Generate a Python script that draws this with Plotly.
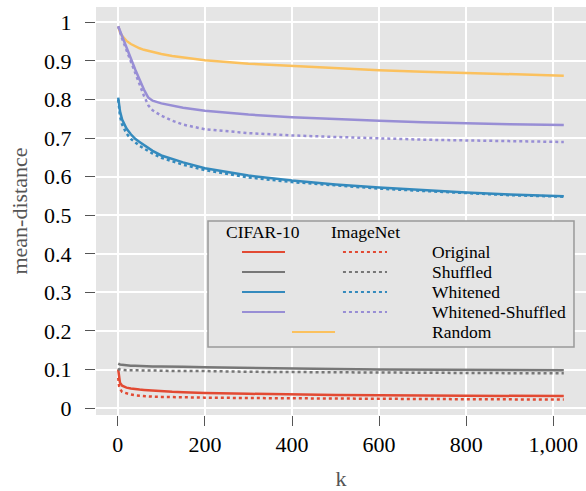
import plotly.graph_objects as go

# ---- data ----
k = [1, 2, 3, 5, 10, 15, 20, 30, 40, 50, 60, 70, 80, 100, 125, 150, 200, 300, 400, 500, 600, 700, 800, 900, 1024]

cifar_original = [0.100, 0.085, 0.075, 0.066, 0.058, 0.055, 0.053, 0.051, 0.049, 0.048, 0.047, 0.046, 0.045, 0.044, 0.042, 0.041, 0.039, 0.037, 0.035, 0.034, 0.033, 0.0325, 0.032, 0.0315, 0.031]
imagenet_original = [0.078, 0.065, 0.057, 0.050, 0.042, 0.040, 0.038, 0.035, 0.033, 0.032, 0.031, 0.030, 0.0295, 0.029, 0.028, 0.0275, 0.027, 0.026, 0.025, 0.0245, 0.024, 0.0235, 0.023, 0.0225, 0.022]

cifar_shuffled = [0.115, 0.114, 0.114, 0.113, 0.112, 0.111, 0.111, 0.110, 0.110, 0.109, 0.109, 0.108, 0.108, 0.108, 0.107, 0.107, 0.106, 0.104, 0.102, 0.101, 0.100, 0.0995, 0.099, 0.0985, 0.098]
imagenet_shuffled = [0.103, 0.101, 0.100, 0.100, 0.099, 0.099, 0.098, 0.098, 0.098, 0.097, 0.097, 0.097, 0.097, 0.097, 0.096, 0.096, 0.096, 0.094, 0.093, 0.0925, 0.092, 0.0915, 0.091, 0.0905, 0.090]

cifar_whitened = [0.805, 0.795, 0.785, 0.770, 0.748, 0.735, 0.725, 0.710, 0.698, 0.690, 0.682, 0.674, 0.667, 0.655, 0.645, 0.637, 0.622, 0.603, 0.590, 0.580, 0.572, 0.565, 0.559, 0.554, 0.549]
imagenet_whitened = [0.800, 0.785, 0.772, 0.757, 0.735, 0.722, 0.712, 0.698, 0.688, 0.680, 0.673, 0.666, 0.660, 0.649, 0.639, 0.631, 0.617, 0.598, 0.586, 0.577, 0.569, 0.563, 0.557, 0.552, 0.548]

cifar_wshuffled = [0.990, 0.987, 0.983, 0.977, 0.962, 0.948, 0.933, 0.905, 0.878, 0.852, 0.826, 0.805, 0.797, 0.790, 0.784, 0.779, 0.771, 0.761, 0.754, 0.749, 0.745, 0.741, 0.738, 0.736, 0.734]
imagenet_wshuffled = [0.990, 0.986, 0.982, 0.975, 0.958, 0.943, 0.928, 0.898, 0.868, 0.838, 0.810, 0.785, 0.772, 0.758, 0.745, 0.735, 0.723, 0.713, 0.707, 0.703, 0.699, 0.696, 0.694, 0.692, 0.690]

random_vals = [0.990, 0.985, 0.981, 0.975, 0.965, 0.958, 0.952, 0.944, 0.938, 0.933, 0.929, 0.926, 0.923, 0.918, 0.913, 0.909, 0.902, 0.893, 0.887, 0.881, 0.876, 0.872, 0.869, 0.865, 0.862]

labels = ["Original", "Shuffled", "Whitened", "Whitened-Shuffled"]
colors = ["#E24A33", "#777777", "#348ABD", "#988ED5"]
random_color = "#FBC15E"
cifar_series = [cifar_original, cifar_shuffled, cifar_whitened, cifar_wshuffled]
imagenet_series = [imagenet_original, imagenet_shuffled, imagenet_whitened, imagenet_wshuffled]

x_ticks = [0, 200, 400, 600, 800, 1000]
x_ticklabels = ["0", "200", "400", "600", "800", "1,000"]
y_ticks = [0, 0.1, 0.2, 0.3, 0.4, 0.5, 0.6, 0.7, 0.8, 0.9, 1]
y_ticklabels = ["0", "0.1", "0.2", "0.3", "0.4", "0.5", "0.6", "0.7", "0.8", "0.9", "1"]

FONT = "Liberation Serif"

fig = go.Figure()
fig.add_trace(go.Scatter(x=k, y=random_vals, mode="lines", name="Random",
                         line=dict(color=random_color, width=2.5), showlegend=False))
for lab, col, cs, ims in zip(labels, colors, cifar_series, imagenet_series):
    fig.add_trace(go.Scatter(x=k, y=cs, mode="lines", name=lab + " CIFAR-10",
                             line=dict(color=col, width=2.5), showlegend=False))
    fig.add_trace(go.Scatter(x=k, y=ims, mode="lines", name=lab + " ImageNet",
                             line=dict(color=col, width=2.5, dash="dot"), showlegend=False))

# ---- custom legend (paper coordinates) ----
shapes = [dict(type="rect", xref="paper", yref="paper", x0=0.2286, x1=0.9755, y0=0.1667, y1=0.4755,
               fillcolor="#E5E5E5", line=dict(color="#999999", width=1.5), layer="above")]
annotations = [
    dict(text="CIFAR-10", x=0.3408, y=0.4485, xref="paper", yref="paper", showarrow=False,
         xanchor="center", yanchor="middle", font=dict(family=FONT, size=17.5, color="black")),
    dict(text="ImageNet", x=0.549, y=0.4485, xref="paper", yref="paper", showarrow=False,
         xanchor="center", yanchor="middle", font=dict(family=FONT, size=17.5, color="black")),
]
row_y = [0.3995, 0.3505, 0.3015, 0.2525, 0.2034]
for i, (lab, col) in enumerate(zip(labels, colors)):
    yy = row_y[i]
    shapes.append(dict(type="line", xref="paper", yref="paper", x0=0.298, x1=0.3857, y0=yy, y1=yy,
                       line=dict(color=col, width=2.2), layer="above"))
    shapes.append(dict(type="line", xref="paper", yref="paper", x0=0.504, x1=0.5939, y0=yy, y1=yy,
                       line=dict(color=col, width=2.2, dash="dot"), layer="above"))
    annotations.append(dict(text=lab, x=0.6816, y=yy, xref="paper", yref="paper", showarrow=False,
                            xanchor="left", yanchor="middle",
                            font=dict(family=FONT, size=17.5, color="black")))
yy = row_y[4]
shapes.append(dict(type="line", xref="paper", yref="paper", x0=0.40, x1=0.4878, y0=yy, y1=yy,
                   line=dict(color=random_color, width=2.2), layer="above"))
annotations.append(dict(text="Random", x=0.6816, y=yy, xref="paper", yref="paper", showarrow=False,
                        xanchor="left", yanchor="middle",
                        font=dict(family=FONT, size=17.5, color="black")))

fig.update_layout(
    width=586, height=491,
    margin=dict(l=96, r=0, t=7, b=76),
    paper_bgcolor="white", plot_bgcolor="#E5E5E5",
    font=dict(family=FONT, size=22, color="black"),
    showlegend=False,
    shapes=shapes, annotations=annotations,
)
fig.update_xaxes(range=[-50, 1075], tickvals=x_ticks, ticktext=x_ticklabels, automargin=False,
                 showgrid=True, gridcolor="white", gridwidth=1.5, zeroline=False,
                 ticks="outside", ticklen=10, tickcolor="#555555", tickwidth=1,
                 tickfont=dict(family=FONT, size=22, color="black"),
                 title=dict(text="k", font=dict(family=FONT, size=22, color="#555555"), standoff=26),
                 showline=False)
fig.update_yaxes(range=[-0.018, 1.04], tickvals=y_ticks, ticktext=y_ticklabels, automargin=False,
                 showgrid=True, gridcolor="white", gridwidth=1.5, zeroline=False,
                 ticks="outside", ticklen=10, tickcolor="#555555", tickwidth=1,
                 tickfont=dict(family=FONT, size=22, color="black"), ticklabelstandoff=9,
                 title=dict(text="mean-distance", font=dict(family=FONT, size=22, color="#555555"), standoff=10),
                 showline=False)

fig.write_html("out.html", config={"displayModeBar": False},
               post_script="document.body.style.margin='0';document.body.style.padding='0';")
